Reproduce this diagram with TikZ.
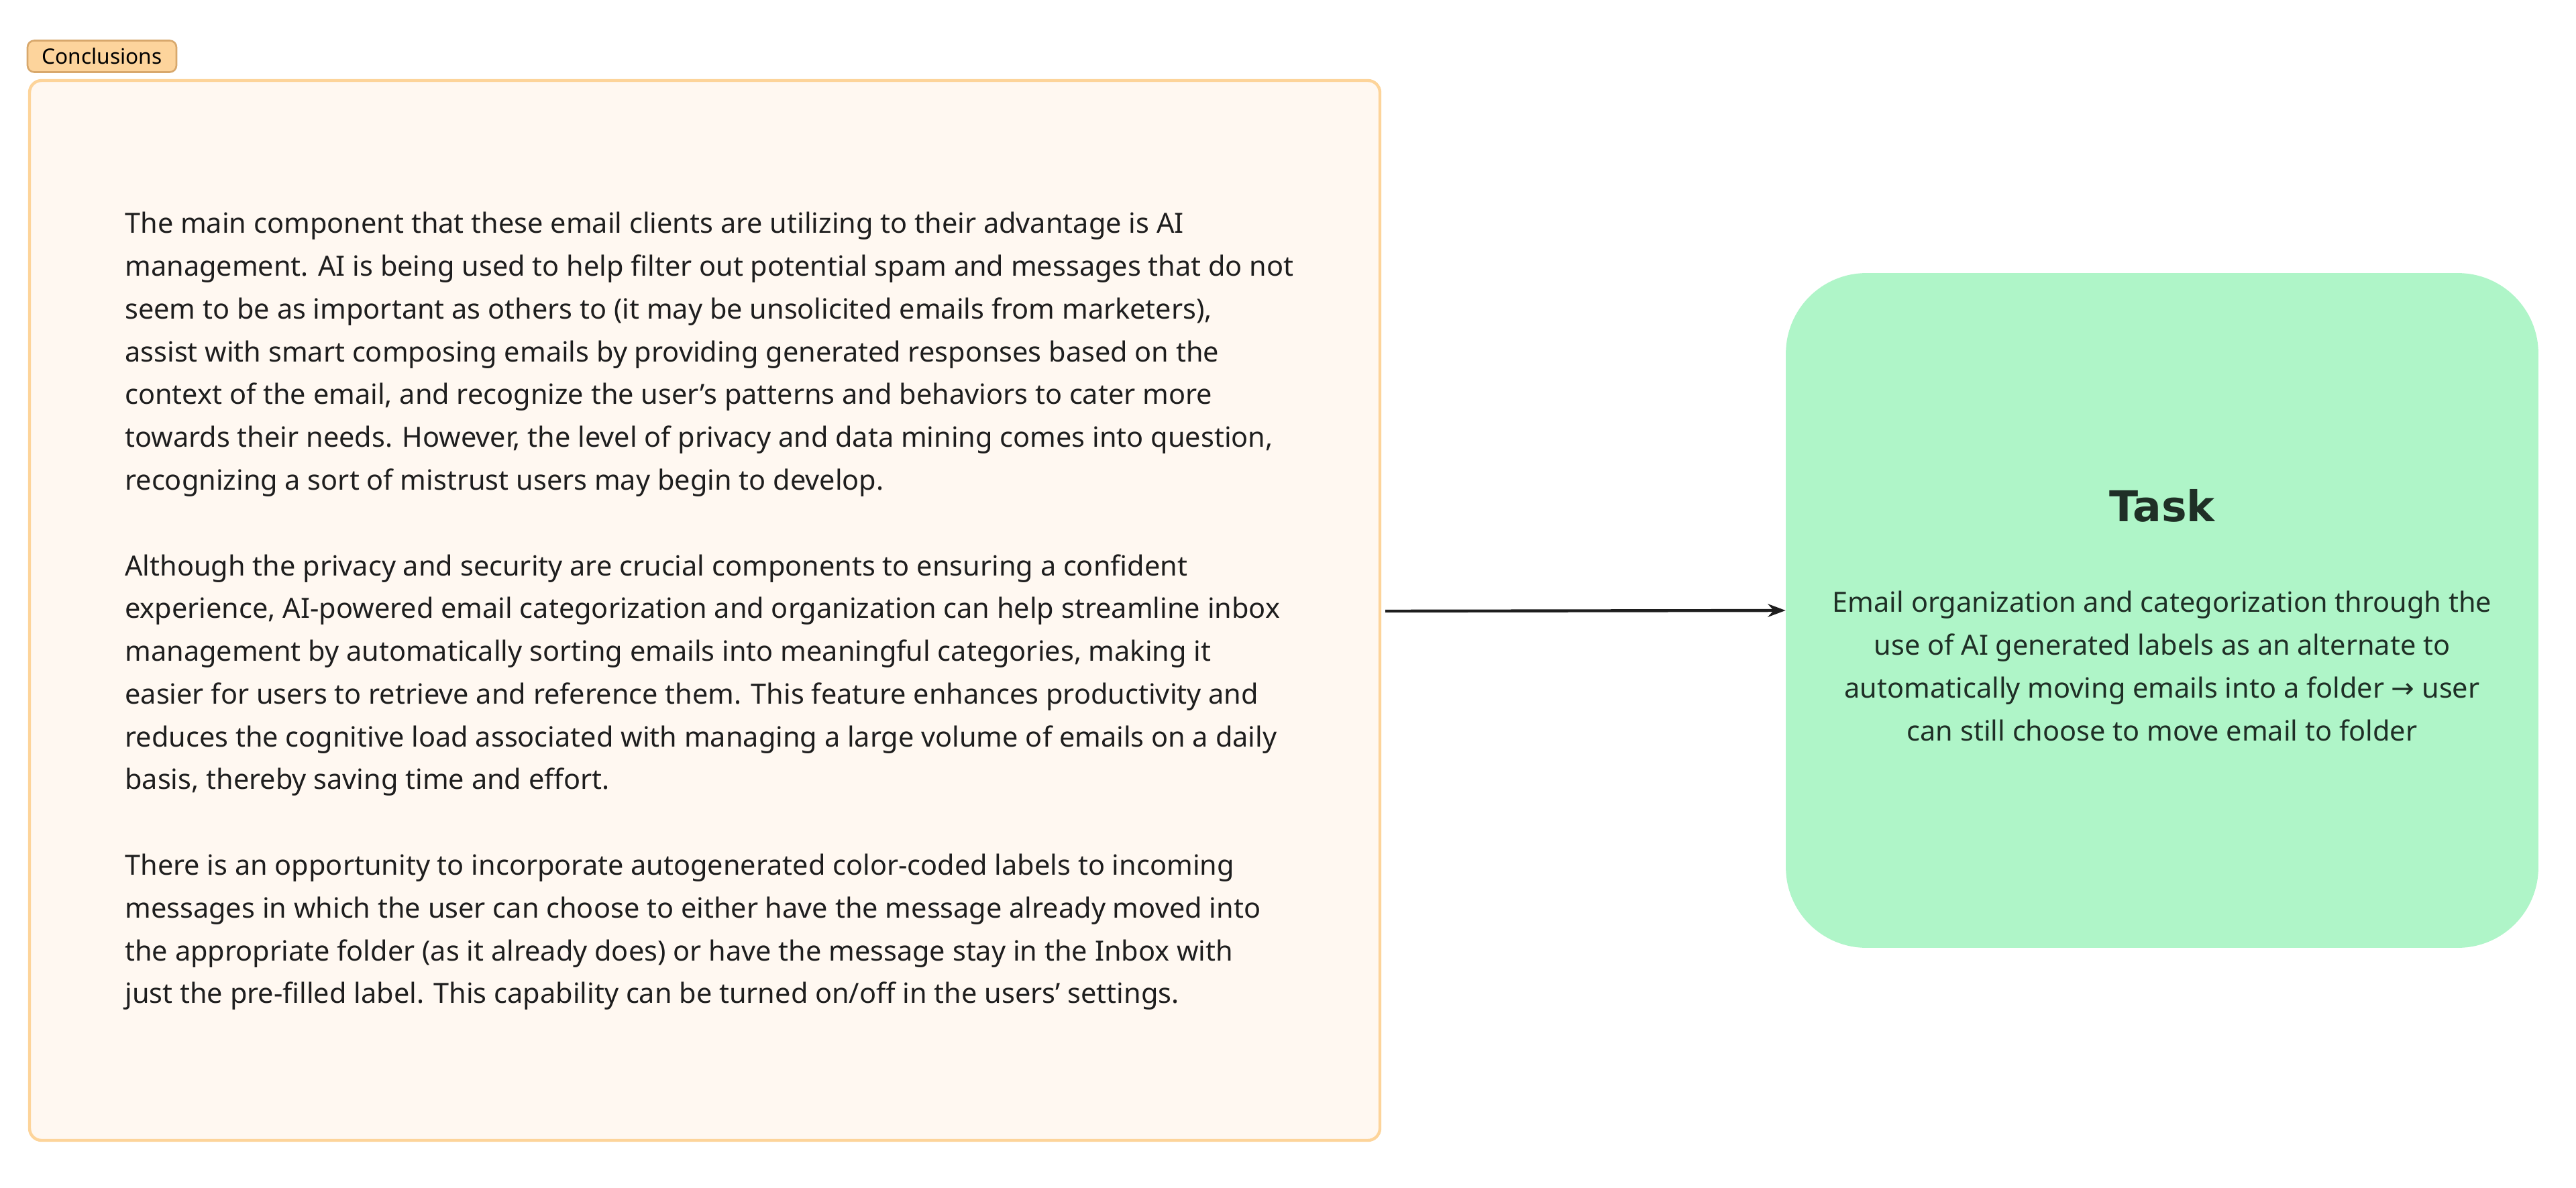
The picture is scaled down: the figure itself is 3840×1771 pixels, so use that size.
\documentclass[tikz,border=0pt]{standalone}
\usepackage{fontspec}
\usetikzlibrary{arrows.meta}
\setmainfont{Noto Sans}
\newfontfamily\dvfont{DejaVu Sans}
\definecolor{tagfill}{HTML}{FDD49C}
\definecolor{tagline}{HTML}{D8A86C}
\definecolor{boxfill}{HTML}{FFF8F1}
\definecolor{boxline}{HTML}{FDD49A}
\definecolor{greenfill}{HTML}{AFF5C8}
\definecolor{darktxt}{HTML}{1E1E1E}
\definecolor{greentxt}{HTML}{1F2F26}
\begin{document}
\begin{tikzpicture}[x=0.02cm,y=-0.02cm,
  bodytxt/.style={font=\fontsize{23.6}{36.3}\selectfont, text=darktxt, align=left, inner sep=0},
  greentxtstyle/.style={font=\fontsize{23.6}{36.3}\selectfont, text=greentxt, align=center, inner sep=0}]
\useasboundingbox (0,0) rectangle (3840,1771);
\fill[white] (0,0) rectangle (3840,1771);
\node[draw=tagline, fill=tagfill, line width=1.5pt, rounded corners=0.2cm, minimum width=4.44cm, minimum height=0.94cm, inner sep=0, font=\fontsize{18}{20}\selectfont] (tag) at (152,84) {Conclusions};
\draw[draw=boxline, fill=boxfill, line width=2.5pt, rounded corners=0.36cm] (44,120) rectangle (2057,1700);
\coordinate (boxe) at (2065,911);
\node[bodytxt, anchor=west] (body) at (186,911) {The main component that these email clients are utilizing to their advantage is AI\\
management. AI is being used to help filter out potential spam and messages that do not\\
seem to be as important as others to (it may be unsolicited emails from marketers),\\
assist with smart composing emails by providing generated responses based on the\\
context of the email, and recognize the user’s patterns and behaviors to cater more\\
towards their needs. However, the level of privacy and data mining comes into question,\\
recognizing a sort of mistrust users may begin to develop.\\[36.3pt]
Although the privacy and security are crucial components to ensuring a confident\\
experience, AI-powered email categorization and organization can help streamline inbox\\
management by automatically sorting emails into meaningful categories, making it\\
easier for users to retrieve and reference them. This feature enhances productivity and\\
reduces the cognitive load associated with managing a large volume of emails on a daily\\
basis, thereby saving time and effort.\\[36.3pt]
There is an opportunity to incorporate autogenerated color-coded labels to incoming\\
messages in which the user can choose to either have the message already moved into\\
the appropriate folder (as it already does) or have the message stay in the Inbox with\\
just the pre-filled label. This capability can be turned on/off in the users’ settings.};
\node[fill=greenfill, rounded corners=2.4cm, minimum width=22.44cm, minimum height=20.12cm, inner sep=0] (task) at (3223,910) {};
\node[font=\dvfont\bfseries\fontsize{36}{40}\selectfont, text=greentxt] (title) at (3223,754) {Task};
\node[greentxtstyle] (desc) at (3223,993) {Email organization and categorization through the\\
use of AI generated labels as an alternate to\\
automatically moving emails into a folder {\dvfont →} user\\
can still choose to move email to folder};
\draw[-{Stealth[length=15pt,width=11pt]}, line width=2.5pt, draw=darktxt] (boxe) -- (task.west);
\end{tikzpicture}
\end{document}
